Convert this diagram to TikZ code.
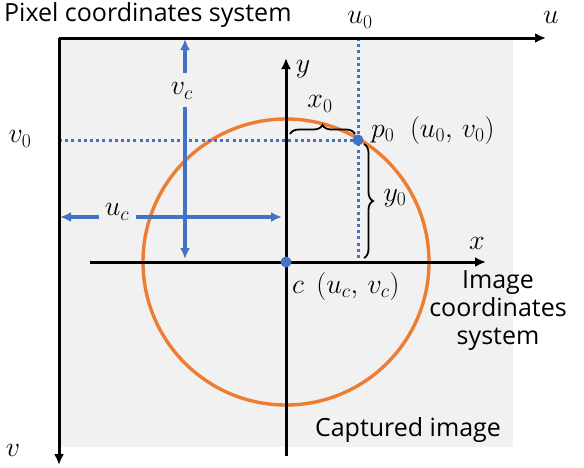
\RequirePackage{fix-cm}
\documentclass[tikz,border=0pt]{standalone}
\usepackage[no-math]{fontspec}
\setmainfont{Open Sans}
\usetikzlibrary{arrows.meta,decorations.pathreplacing}
\definecolor{bgray}{RGB}{241,241,241}
\definecolor{oorange}{RGB}{237,125,49}
\definecolor{oblue}{RGB}{68,114,196}
\tikzset{
  axis/.style={line width=3pt,-{Latex[length=11pt,width=10pt]}},
  barrow/.style={oblue,line width=3.2pt,-{Latex[length=11pt,width=10pt]}},
  dotline/.style={oblue,line width=3pt,dash pattern=on 3pt off 3.2pt},
  lbl/.style={inner sep=1pt,font=\fontsize{25}{28}\selectfont},
  mlbl/.style={inner sep=1pt,font=\fontsize{28}{32}\selectfont},
  bdot/.style={circle,fill=oblue,inner sep=0pt,minimum size=11pt},
  bracestyle/.style={decorate,decoration={brace,amplitude=9pt},line width=1.8pt},
}
\begin{document}
\begin{tikzpicture}[x=1pt,y=-1pt]
\useasboundingbox (0,0) rectangle (584,467);
% background image area
\fill[bgray] (59,38) rectangle (513,447);
% coordinates
\coordinate (O) at (59,38);
\coordinate (uend) at (546,38);
\coordinate (vend) at (59,465);
\coordinate (C) at (286,262);
\coordinate (P) at (358,140);
\coordinate (u0top) at (358,38);
\coordinate (v0left) at (59,140);
\coordinate (xstart) at (90,262);
\coordinate (xend) at (486,262);
\coordinate (ystart) at (286,456);
\coordinate (yend) at (286,58);
% circle
\draw[oorange,line width=3.4pt] (C) circle[radius=143];
% dotted guide lines
\draw[dotline] (u0top) -- (P |- C);
\draw[dotline] (v0left) -- (P);
% pixel axes
\draw[axis] (O) -- (uend);
\draw[axis] (O) -- (vend);
% image axes
\draw[axis] (xstart) -- (xend);
\draw[axis] (ystart) -- (yend);
% blue measure arrows
\node[mlbl] (vc) at (182,91) {$v_c$};
\coordinate (vcgt) at (185,73);
\coordinate (vcgb) at (185,107);
\coordinate (vctop) at (185,39);
\coordinate (vcbot) at (185,259);
\draw[barrow] (vcgt) -- (vctop);
\draw[barrow] (vcgb) -- (vcbot);
\node[mlbl] (uc) at (117,212) {$u_c$};
\coordinate (ucgl) at (99,217);
\coordinate (ucgr) at (136,217);
\coordinate (ucleft) at (60,217);
\coordinate (ucright) at (282,217);
\draw[barrow] (ucgl) -- (ucleft);
\draw[barrow] (ucgr) -- (ucright);
% points
\node[bdot] (cdot) at (C) {};
\node[bdot] (pdot) at (P) {};
% braces
\coordinate (bx1) at (290,134);
\coordinate (bx2) at (355,134);
\draw[bracestyle] (bx1) -- (bx2);
\node[mlbl] (x0) at (320,104) {$x_0$};
\coordinate (by1) at (364,144);
\coordinate (by2) at (364,258);
\draw[bracestyle] (by1) -- (by2);
\node[mlbl] (y0) at (395,198) {$y_0$};
% labels
\node[lbl,anchor=west] (title) at (3,15) {Pixel coordinates system};
\node[mlbl] (ulbl) at (551,17) {$u$};
\node[mlbl,inner sep=0pt] (u0lbl) at (360,20) {$u_0$};
\node[mlbl] (v0lbl) at (20,139) {$v_0$};
\node[mlbl] (vlbl) at (13,450) {$v$};
\node[mlbl] (ylbl) at (303,69) {$y$};
\node[mlbl] (xlbl) at (477,243) {$x$};
\node[mlbl,anchor=west] (plbl) at (370,130) {$p_0\;\;(u_0,\,v_0)$};
\node[mlbl,anchor=west] (clbl) at (291,286) {$c\;\,(u_c,\,v_c)$};
\node[lbl,align=center] (imgsys) at (498,311) {Image\\coordinates\\system};
\node[lbl] (capt) at (408,430) {Captured image};
\end{tikzpicture}
\end{document}
